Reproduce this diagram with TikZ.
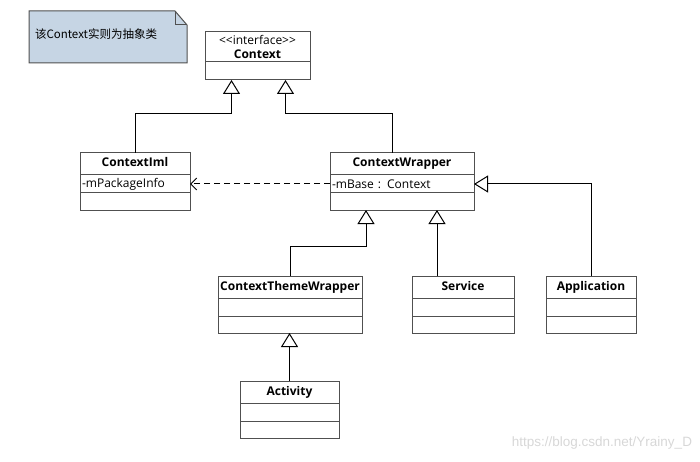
\documentclass[tikz,border=0pt]{standalone}
\usepackage{fontspec}
\setmainfont{Open Sans}
\newfontfamily\cjk{Noto Sans CJK SC}
\newfontfamily\wmfont{Liberation Sans}
\usepackage{xcolor}
\usepackage{tikz}
\usetikzlibrary{positioning}
\usetikzlibrary{arrows.meta}

\definecolor{boxgray}{RGB}{80,80,80}
\definecolor{notefill}{RGB}{198,213,228}
\definecolor{markgray}{RGB}{215,215,215}

\begin{document}
\begin{tikzpicture}[x=1pt,y=-1pt,node distance=0pt,
  every node/.style={inner sep=0pt,outer sep=0pt,font=\fontsize{12}{14}\selectfont},
  iface/.style={draw=boxgray,line width=1pt,fill=white,font=\fontsize{12}{14}\selectfont\bfseries,anchor=north west},
  head/.style={iface,minimum height=22,text height=9pt,text depth=3pt},
  part/.style={draw=boxgray,line width=1pt,fill=white,minimum height=#1},
  attr/.style={draw=boxgray,line width=1pt,fill=white,minimum height=18,align=left,inner xsep=2pt},
  gen/.style={line width=1pt,-{Triangle[open,length=14pt,width=17pt]}},
  dep/.style={line width=1pt,dash pattern=on 6pt off 4pt,-{Straight Barb[length=6pt,width=12pt]}}]
  \useasboundingbox (0,0) rectangle (700,462);

  % note
  \draw[draw=boxgray,line width=1pt,fill=notefill] (29,11) -- (175,11) -- (187,25) -- (187,63) -- (29,63) -- cycle;
  \draw[draw=boxgray,line width=1pt] (175,11) -- (175,25) -- (187,25);
  \node[anchor=west] (memo) at (35,34) {\cjk\fontsize{11.5}{13}\selectfont 该Context实则为抽象类};

  % classes
  \node[iface,minimum width=105,minimum height=30,align=center] (ctx) at (205,32)
    {\mdseries <{}<interface>{}>\\ Context};
  \node[part=18,minimum width=105] (ctx-a) [below=of ctx] {};

  \node[head,minimum width=110] (ci) at (80,153) {ContextIml};
  \node[attr,text width=106] (ci-a) [below=of ci] {-mPackageInfo};
  \node[part=17,minimum width=110] (ci-o) [below=of ci-a] {};

  \node[head,minimum width=144] (cw) at (330,153) {ContextWrapper};
  \node[attr,text width=140] (cw-a) [below=of cw] {-mBase : Context};
  \node[part=17,minimum width=144] (cw-o) [below=of cw-a] {};

  \node[head,minimum width=144] (ctw) at (218,276) {ContextThemeWrapper};
  \node[part=18,minimum width=144] (ctw-a) [below=of ctw] {};
  \node[part=17,minimum width=144] (ctw-o) [below=of ctw-a] {};

  \node[head,minimum width=102] (svc) at (412,276) {Service};
  \node[part=18,minimum width=102] (svc-a) [below=of svc] {};
  \node[part=17,minimum width=102] (svc-o) [below=of svc-a] {};

  \node[head,minimum width=90] (app) at (546,276) {Application};
  \node[part=18,minimum width=90] (app-a) [below=of app] {};
  \node[part=17,minimum width=90] (app-o) [below=of app-a] {};

  \node[head,minimum width=99] (act) at (240,381) {Activity};
  \node[part=18,minimum width=99] (act-a) [below=of act] {};
  \node[part=17,minimum width=99] (act-o) [below=of act-a] {};

  % connectors
  \coordinate (bus1) at (0,114);
  \coordinate (bus2) at (0,246);
  \draw[gen] (ci.north) -- (ci.north |- bus1) -| ([xshift=-26pt]ctx-a.south);
  \draw[gen] ([xshift=-10pt]cw.north) -- ([xshift=-10pt]cw.north |- bus1) -| ([xshift=28pt]ctx-a.south);
  \draw[gen] (ctw.north) -- (ctw.north |- bus2) -| ([xshift=-36pt]cw-o.south);
  \draw[gen] ([xshift=-26pt]svc.north) -- ([xshift=-26pt]svc.north |- cw-o.south);
  \draw[gen] (app.north) |- (cw-a.east);
  \draw[gen] (act.north) -- (act.north |- ctw-o.south);
  \draw[dep] (cw-a.west) -- (ci-a.east);

  \node[anchor=east,text=markgray] (mark) at (692,443) {\wmfont\fontsize{13.5}{15}\selectfont https://blog.csdn.net/Yrainy\_D};
\end{tikzpicture}
\end{document}
